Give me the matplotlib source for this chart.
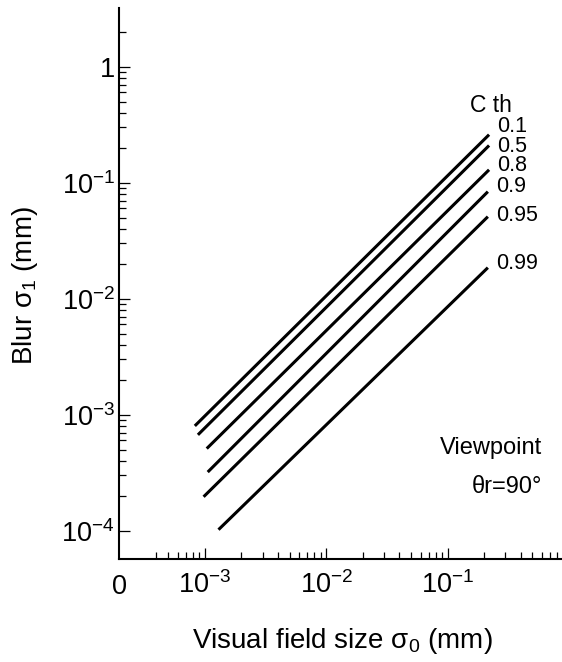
import numpy as np
import matplotlib
matplotlib.use("Agg")
import matplotlib.pyplot as plt
from matplotlib.ticker import FixedLocator, NullFormatter

plt.rcParams['font.family'] = ['Liberation Sans', 'DejaVu Sans']
plt.rcParams['mathtext.fontset'] = 'custom'
plt.rcParams['mathtext.rm'] = 'Liberation Sans'
plt.rcParams['mathtext.it'] = 'Liberation Sans'
plt.rcParams['mathtext.default'] = 'regular'

## threshold contrast curves: blur vs visual field size

cth = ['0.1', '0.5', '0.8', '0.9', '0.95', '0.99']
x_start = [8.3e-4, 8.8e-4, 1.04e-3, 1.06e-3, 0.98e-3, 1.30e-3]
y_start = [8.0e-4, 6.7e-4, 5.1e-4, 3.2e-4, 1.96e-4, 1.02e-4]
x_end = [0.22, 0.22, 0.22, 0.215, 0.215, 0.215]
y_end = [0.259, 0.209, 0.129, 0.0836, 0.0509, 0.0185]

x_major = [1e-3, 1e-2, 1e-1]
x_major_labels = ['$10^{-3}$', '$10^{-2}$', '$10^{-1}$']
y_major = [1e-4, 1e-3, 1e-2, 1e-1, 1]
y_major_labels = ['$10^{-4}$', '$10^{-3}$', '$10^{-2}$', '$10^{-1}$', '1']

W, H = 562, 662
fig = plt.figure(figsize=(W / 100, H / 100), dpi=100)
ax = fig.add_axes([119 / W, (H - 559) / H, (W - 119) / W, (559 - 8) / H])

for xs, ys, xe, ye in zip(x_start, y_start, x_end, y_end):
    ax.plot([xs, xe], [ys, ye], color='black', lw=2.2, solid_capstyle='butt')

# label nudges in pixels from the upper end of each line
label_dy = [8, -1, 4, 5, 1, 4]
for lab, xe, ye, dy in zip(cth, x_end, y_end, label_dy):
    ax.annotate(lab, (xe, ye), xytext=(8, dy), textcoords='offset pixels',
                ha='left', va='center', fontsize=15.5)

ax.set_xscale('log')
ax.set_yscale('log')
ax.set_xlim(1.97e-4, 0.877)
ax.set_ylim(5.7e-5, 3.2)

for s in ['top', 'right']:
    ax.spines[s].set_visible(False)
for s in ['left', 'bottom']:
    ax.spines[s].set_linewidth(1.5)

ax.xaxis.set_major_locator(FixedLocator(x_major))
ax.set_xticklabels(x_major_labels)
x_minor = [k * 10.0**e for e in range(-4, 0) for k in range(2, 10)
           if 4e-4 <= k * 10.0**e <= 0.9]
ax.xaxis.set_minor_locator(FixedLocator(x_minor))
ax.xaxis.set_minor_formatter(NullFormatter())

ax.yaxis.set_major_locator(FixedLocator(y_major))
ax.set_yticklabels(y_major_labels)
y_minor = [k * 10.0**e for e in range(-4, 0) for k in range(2, 10)] + [2]
ax.yaxis.set_minor_locator(FixedLocator(y_minor))
ax.yaxis.set_minor_formatter(NullFormatter())

ax.tick_params(which='both', direction='in', width=0.9)
ax.tick_params(which='major', length=8, labelsize=19.5)
ax.tick_params(which='minor', length=5)
ax.tick_params(axis='x', pad=9)
ax.tick_params(axis='y', pad=3)

# origin label on the broken x axis
ax.text(1.97e-4, -0.027, '0', transform=ax.get_xaxis_transform(),
        ha='center', va='top', fontsize=19.5)

fig.text(342 / W, 1 - 641 / H, 'Visual field size σ$_0$ (mm)',
         ha='center', va='center', fontsize=20)
fig.text(25 / W, 1 - 286 / H, 'Blur σ$_1$ (mm)', rotation=90,
         ha='center', va='center', fontsize=20)

fig.text(470 / W, 1 - 105 / H, 'C th', ha='left', va='center', fontsize=16.5)
fig.text(542 / W, 1 - 448 / H, 'Viewpoint', ha='right', va='center', fontsize=17)
fig.text(542 / W, 1 - 487 / H, 'θr=90°', ha='right', va='center', fontsize=17)

fig.savefig('out.png', dpi=100)
